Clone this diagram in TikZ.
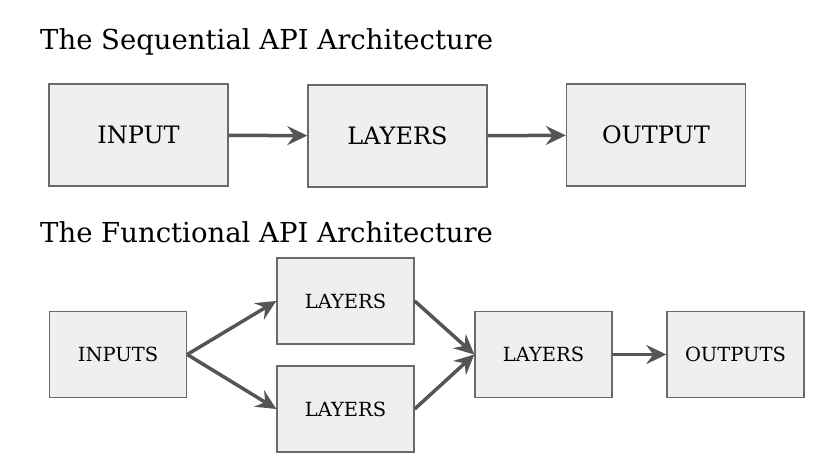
\documentclass[tikz,border=0pt]{standalone}
\usepackage{fontspec}
\setmainfont{DejaVu Serif}
\usetikzlibrary{arrows.meta}

\definecolor{boxfill}{HTML}{EFEFEF}
\definecolor{boxline}{HTML}{6A6A6A}
\definecolor{arrline}{HTML}{555555}

\tikzset{
  apibox/.style={draw=boxline, line width=1.4pt, fill=boxfill, inner sep=0pt},
  bigbox/.style={apibox, minimum width=179pt, minimum height=102pt, font=\fontsize{24}{27}\selectfont},
  smallbox/.style={apibox, minimum width=137pt, minimum height=86pt, font=\fontsize{19.5}{22}\selectfont},
  flow/.style={draw=arrline, line width=3.5pt, -{Stealth[length=20pt, width=19pt, inset=7pt]}},
  heading/.style={anchor=base west, inner sep=0pt, font=\fontsize{27.5}{30}\selectfont}
}

\begin{document}
\begin{tikzpicture}[x=1pt, y=-1pt]
\useasboundingbox (0,0) rectangle (828,466);
% sequential
\node[heading] (seqtitle) at (40, 49) {The Sequential API Architecture};
\node at (138.5, 135) [bigbox] (input) {INPUT};
\node at (397.5, 136) [bigbox] (layers) {LAYERS};
\node at (656, 135) [bigbox] (output) {OUTPUT};
\draw[flow] (input) -- (layers);
\draw[flow] (layers) -- (output);
% functional
\node[heading] (funtitle) at (40, 242) {The Functional API Architecture};
\node at (118, 354.5) [smallbox] (inputs) {INPUTS};
\node at (345.5, 301) [smallbox] (uplayers) {LAYERS};
\node at (345.5, 409) [smallbox] (lowlayers) {LAYERS};
\node at (543.5, 354.5) [smallbox] (midlayers) {LAYERS};
\node at (735.5, 354.5) [smallbox] (outputs) {OUTPUTS};
\draw[flow] (inputs.east) -- (uplayers.west);
\draw[flow] (inputs.east) -- (lowlayers.west);
\draw[flow] (uplayers.east) -- (midlayers.west);
\draw[flow] (lowlayers.east) -- (midlayers.west);
\draw[flow] (midlayers) -- (outputs);
\end{tikzpicture}
\end{document}
